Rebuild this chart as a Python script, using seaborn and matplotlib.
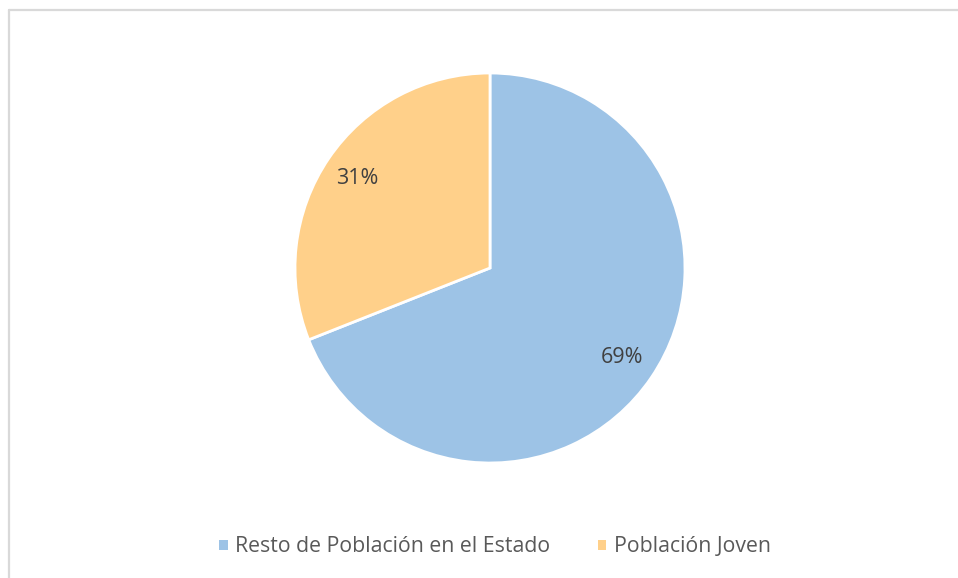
import matplotlib
matplotlib.use("Agg")
import matplotlib.pyplot as plt
import seaborn as sns
from matplotlib.lines import Line2D
from matplotlib.patches import Patch

categories = ["Resto de Población en el Estado", "Población Joven"]
values = [69, 31]
colors = ["#9DC3E6", "#FFD08A"]

sns.set_theme(style="white")
plt.rcParams['font.family'] = ['Open Sans', 'DejaVu Sans']

W, H = 958, 578
fig = plt.figure(figsize=(W / 100, H / 100), dpi=100)
fig.patch.set_facecolor("white")

cx, cy, r = 490, 268, 195
ax = fig.add_axes([(cx - r) / W, (H - cy - r) / H, 2 * r / W, 2 * r / H])
wedges, texts, autotexts = ax.pie(
    values, colors=colors, startangle=90, counterclock=False,
    autopct=lambda p: f"{p:.0f}%", pctdistance=0.82,
    wedgeprops=dict(edgecolor="white", linewidth=2),
    textprops=dict(color="#404040", fontsize=15.5),
)
ax.set_xlim(-1, 1)
ax.set_ylim(-1, 1)
ax.set_aspect("equal")
ax.axis("off")

# Frame lines (top and left)
fig.add_artist(Line2D([9 / W, 1], [1 - 10 / H, 1 - 10 / H], transform=fig.transFigure,
                      color="#D9D9D9", linewidth=1.6))
fig.add_artist(Line2D([9 / W, 9 / W], [0, 1 - 10 / H], transform=fig.transFigure,
                      color="#D9D9D9", linewidth=1.6))

handles = [Patch(facecolor=c, edgecolor="none") for c in colors]
fig.legend(handles, categories, loc="center", bbox_to_anchor=(495 / W, 1 - 547 / H),
           ncol=2, frameon=False, fontsize=15.3, handlelength=0.4, handleheight=0.4,
           handletextpad=0.35, columnspacing=2.25, labelcolor="#595959")

fig.savefig("out.png", dpi=100, facecolor="white")
